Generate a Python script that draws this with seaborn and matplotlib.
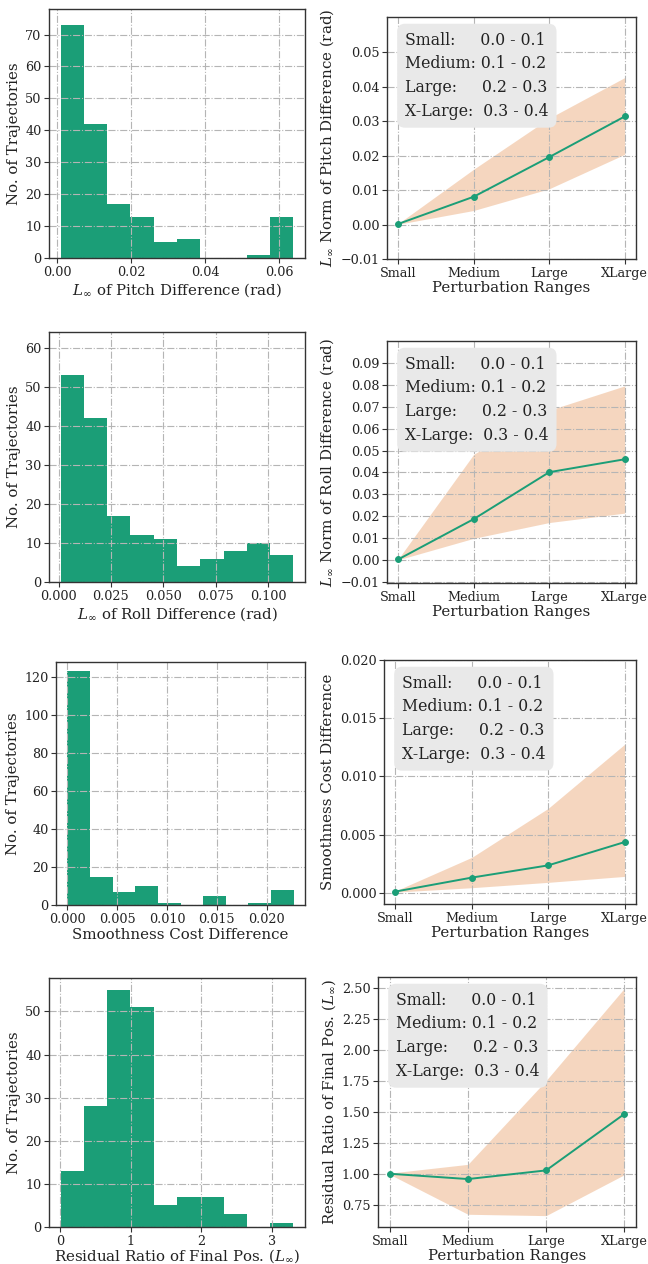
import numpy as np
import pandas as pd
import matplotlib
matplotlib.use("Agg")
import matplotlib.pyplot as plt
import seaborn as sns

# ---------------- data ----------------
categories = ["Small", "Medium", "Large", "XLarge"]

pitch_hist_range = [0.0009, 0.0638]
pitch_hist_counts = [73, 42, 17, 13, 5, 6, 0, 0, 1, 13]
roll_hist_range = [0.00096, 0.1121]
roll_hist_counts = [53, 42, 17, 12, 11, 4, 6, 8, 10, 7]
smooth_hist_range = [0.00001, 0.02271]
smooth_hist_counts = [123, 15, 7, 10, 1, 0, 5, 0, 1, 8]
resid_hist_range = [0.0094, 3.30]
resid_hist_counts = [13, 28, 55, 51, 5, 7, 7, 3, 0, 1]

pitch_mean = [0.0002, 0.0081, 0.0196, 0.0314]
pitch_lo = [0.0001, 0.0041, 0.0104, 0.0204]
pitch_hi = [0.0003, 0.0161, 0.0309, 0.0427]

roll_mean = [0.0003, 0.0187, 0.0401, 0.0460]
roll_lo = [0.0001, 0.0099, 0.0171, 0.0214]
roll_hi = [0.0005, 0.0483, 0.0684, 0.0795]

smooth_mean = [0.0001, 0.0013, 0.00235, 0.00435]
smooth_lo = [0.00005, 0.00043, 0.00089, 0.0014]
smooth_hi = [0.00015, 0.00304, 0.00725, 0.01275]

resid_mean = [1.0, 0.957, 1.027, 1.483]
resid_lo = [0.995, 0.672, 0.661, 0.992]
resid_hi = [1.005, 1.076, 1.754, 2.50]

legend_lines = ["Small:     0.0 - 0.1",
                "Medium: 0.1 - 0.2",
                "Large:     0.2 - 0.3",
                "X-Large:  0.3 - 0.4"]

hist_xlabels = [r"$L_\infty$ of Pitch Difference (rad)",
                r"$L_\infty$ of Roll Difference (rad)",
                "Smoothness Cost Difference",
                r"Residual Ratio of Final Pos. ($L_\infty$)"]
line_ylabels = [r"$L_\infty$ Norm of Pitch Difference (rad)",
                r"$L_\infty$ Norm of Roll Difference (rad)",
                "Smoothness Cost Difference",
                r"Residual Ratio of Final Pos. ($L_\infty$)"]

# ---------------- style ----------------
sns.set_theme(style="ticks")
plt.rcParams["font.family"] = ["DejaVu Serif"]
plt.rcParams["mathtext.fontset"] = "dejavuserif"
plt.rcParams["axes.edgecolor"] = "#333333"
plt.rcParams["axes.linewidth"] = 1.0
plt.rcParams["xtick.color"] = "#333333"
plt.rcParams["ytick.color"] = "#333333"
plt.rcParams["xtick.labelcolor"] = "#222222"
plt.rcParams["ytick.labelcolor"] = "#222222"
plt.rcParams["axes.labelcolor"] = "#222222"

GREEN = "#1b9e77"
ORANGE = "#d95f02"

W, H = 648, 1264
fig = plt.figure(figsize=(W / 100, H / 100), dpi=100)


def rect(x0, x1, y0, y1):
    return [x0 / W, 1 - y1 / H, (x1 - x0) / W, (y1 - y0) / H]


hist_rects = [rect(49, 305, 9, 258), rect(49, 305, 332, 582),
              rect(56, 305, 662, 905), rect(49, 305, 978, 1227)]
line_rects = [rect(387, 636, 17, 259), rect(387, 636, 341, 583),
              rect(384, 636, 660, 904), rect(378, 636, 977, 1227)]

hist_data = [(pitch_hist_range, pitch_hist_counts),
             (roll_hist_range, roll_hist_counts),
             (smooth_hist_range, smooth_hist_counts),
             (resid_hist_range, resid_hist_counts)]
hist_ylims = [(0, 78), (0, 64), (0, 128), None]
hist_xticks = [[0.0, 0.02, 0.04, 0.06],
               [0.0, 0.025, 0.05, 0.075, 0.1],
               [0.0, 0.005, 0.01, 0.015, 0.02],
               [0, 1, 2, 3]]
hist_xfmt = ["{:.2f}", "{:.3f}", "{:.3f}", "{:.0f}"]
hist_yticks = [np.arange(0, 71, 10), np.arange(0, 61, 10),
               np.arange(0, 121, 20), np.arange(0, 51, 10)]
hist_xlabelpad = [2, 2, 2, 0]

line_data = [(pitch_mean, pitch_lo, pitch_hi),
             (roll_mean, roll_lo, roll_hi),
             (smooth_mean, smooth_lo, smooth_hi),
             (resid_mean, resid_lo, resid_hi)]
line_ylims = [(-0.01, 0.0603), (-0.0105, 0.1), (-0.00097, 0.020), None]
line_yticks = [np.round(np.arange(-0.01, 0.051, 0.01), 3),
               np.round(np.arange(-0.01, 0.091, 0.01), 3),
               np.round(np.arange(0.0, 0.0201, 0.005), 4),
               np.round(np.arange(0.75, 2.51, 0.25), 2)]
line_yfmt = ["{:.2f}", "{:.2f}", "{:.3f}", "{:.2f}"]

grid_kw = dict(color="#b5b5b5", linestyle="-.", linewidth=0.8)
TICK_FS = 9.2
LABEL_FS = 10.8

for i in range(4):
    # ---- histogram ----
    ax = fig.add_axes(hist_rects[i])
    (lo, hi), counts = hist_data[i]
    nb = len(counts)
    step = (hi - lo) / nb
    centers = [lo + step * (k + 0.5) for k in range(nb)]
    df = pd.DataFrame({"value": centers, "count": counts})
    sns.histplot(data=df, x="value", weights="count", bins=nb,
                 binrange=(lo, hi), ax=ax,
                 color=GREEN, alpha=1.0, edgecolor=GREEN, linewidth=0)
    ax.set_axisbelow("line")
    ax.grid(True, **grid_kw)
    ax.set_xticks(hist_xticks[i])
    ax.set_xticklabels([hist_xfmt[i].format(v) for v in hist_xticks[i]],
                       fontsize=TICK_FS)
    ax.set_yticks(hist_yticks[i])
    ax.set_yticklabels([str(v) for v in hist_yticks[i]], fontsize=TICK_FS)
    if hist_ylims[i] is not None:
        ax.set_ylim(*hist_ylims[i])
    ax.set_xlabel(hist_xlabels[i], fontsize=LABEL_FS, labelpad=hist_xlabelpad[i])
    ax.set_ylabel("No. of Trajectories", fontsize=LABEL_FS, labelpad=3)
    ax.tick_params(length=3.5, width=0.8, pad=2)
    for s in ax.spines.values():
        s.set_visible(True)
        s.set_color("#333333")

    # ---- line plot with band ----
    ax = fig.add_axes(line_rects[i])
    mean, lo_b, hi_b = line_data[i]
    xs = np.arange(len(categories))
    ax.fill_between(xs, lo_b, hi_b, color=ORANGE, alpha=0.25, linewidth=0)
    sns.lineplot(x=xs, y=mean, ax=ax, color=GREEN, marker="o",
                 markersize=4.2, markeredgecolor=GREEN, linewidth=1.4)
    ax.set_axisbelow("line")
    ax.grid(True, **grid_kw)
    ax.set_xticks(xs)
    ax.set_xticklabels(categories, fontsize=TICK_FS)
    ax.set_yticks(line_yticks[i])
    ax.set_yticklabels([line_yfmt[i].format(v).replace("-", "\u2212")
                        for v in line_yticks[i]], fontsize=TICK_FS)
    if line_ylims[i] is not None:
        ax.set_ylim(*line_ylims[i])
    ax.set_xlabel("Perturbation Ranges", fontsize=LABEL_FS, labelpad=1)
    ax.set_ylabel(line_ylabels[i], fontsize=LABEL_FS, labelpad=3)
    ax.tick_params(length=3.5, width=0.8, pad=2)
    for s in ax.spines.values():
        s.set_visible(True)
        s.set_color("#333333")
    ax.annotate("\n".join(legend_lines), xy=(0, 1), xycoords="axes fraction",
                xytext=(13, -10.5), textcoords="offset points",
                ha="left", va="top", fontsize=11.3, linespacing=1.52,
                color="#222222", zorder=5,
                bbox=dict(boxstyle="round,pad=0.5", facecolor="#e9e9e9",
                          edgecolor="none", alpha=1.0))

fig.savefig("out.png", dpi=100)
